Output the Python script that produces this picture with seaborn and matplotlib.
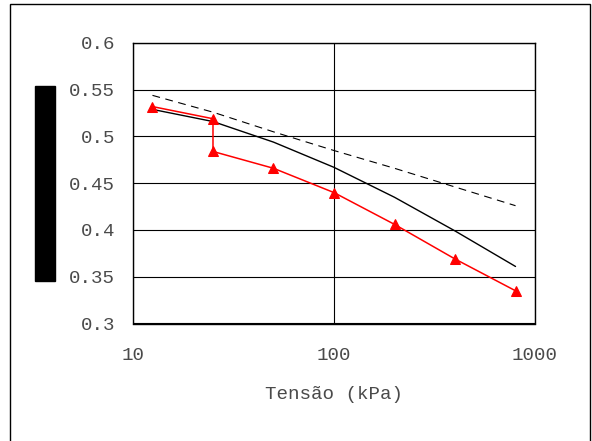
import matplotlib
matplotlib.use("Agg")
import matplotlib.pyplot as plt
import numpy as np
import pandas as pd
import seaborn as sns
from matplotlib.patches import Rectangle
from matplotlib.ticker import FixedLocator, NullLocator, FixedFormatter

# tensão (kPa) and void ratio
tensao = [12.5, 25, 50, 100, 200, 400, 800]
e_solid = [0.529, 0.516, 0.494, 0.467, 0.435, 0.399, 0.361]
e_dashed = [0.544, 0.526, 0.505, 0.485, 0.466, 0.446, 0.426]

tensao_red = [12.5, 25, 25, 50, 100, 200, 400, 800]
e_red = [0.532, 0.519, 0.484, 0.466, 0.440, 0.406, 0.369, 0.335]

y_ticks = [0.3, 0.35, 0.4, 0.45, 0.5, 0.55, 0.6]
y_tick_labels = ["0.3", "0.35", "0.4", "0.45", "0.5", "0.55", "0.6"]
x_ticks = [10, 100, 1000]
x_tick_labels = ["10", "100", "1000"]

sns.set_style("white")
plt.rcParams["font.family"] = ["Liberation Mono", "DejaVu Sans Mono"]
TXT = "#4a4a4a"
FS = 13.8

fig = plt.figure(figsize=(5.92, 4.41), dpi=100)
ax = fig.add_axes([133 / 592, 1 - 323.5 / 441, 402 / 592, 280.5 / 441])

df_solid = pd.DataFrame({"x": tensao, "y": e_solid})
df_dashed = pd.DataFrame({"x": tensao, "y": e_dashed})
df_red = pd.DataFrame({"x": tensao_red, "y": e_red})

sns.lineplot(data=df_solid, x="x", y="y", ax=ax, color="black", linewidth=1.0,
             estimator=None, sort=False)
sns.lineplot(data=df_dashed, x="x", y="y", ax=ax, color="black", linewidth=0.8,
             estimator=None, sort=False, linestyle=(0, (7, 5)))
sns.lineplot(data=df_red, x="x", y="y", ax=ax, color="red", linewidth=1.1,
             estimator=None, sort=False, marker="^", markersize=7,
             markeredgecolor="red", markerfacecolor="red")

ax.set_xscale("log")
ax.set_xlim(10, 1000)
ax.set_ylim(0.3, 0.6)
ax.xaxis.set_major_locator(FixedLocator(x_ticks))
ax.xaxis.set_major_formatter(FixedFormatter(x_tick_labels))
ax.xaxis.set_minor_locator(NullLocator())
ax.yaxis.set_major_locator(FixedLocator(y_ticks))
ax.yaxis.set_major_formatter(FixedFormatter(y_tick_labels))

ax.grid(True, which="major", color="black", linewidth=0.8)
for side in ["top", "right", "bottom", "left"]:
    ax.spines[side].set_visible(True)
    ax.spines[side].set_color("black")
    ax.spines[side].set_linewidth(1.0)

ax.tick_params(axis="both", which="major", direction="out", length=5, width=1.0,
               color="black", labelcolor=TXT, labelsize=FS)
ax.tick_params(axis="x", pad=12)
ax.tick_params(axis="y", pad=8)

ax.set_xlabel("Tensão (kPa)", fontsize=FS, color=TXT, labelpad=16)
ax.set_ylabel("Índice de vazios (e)", fontsize=11.5, color="black", va="center",
              bbox=dict(facecolor="black", edgecolor="black", pad=1.0))
ax.yaxis.set_label_coords((45 - 133) / 402, 0.5)

# outer chart-area frame
fig.add_artist(Rectangle((9.5 / 592, -0.05), (590 - 9.5) / 592, 1.05 - 3.5 / 441,
                         transform=fig.transFigure, fill=False,
                         edgecolor="black", linewidth=1.0))

fig.savefig("out.png", dpi=100)
